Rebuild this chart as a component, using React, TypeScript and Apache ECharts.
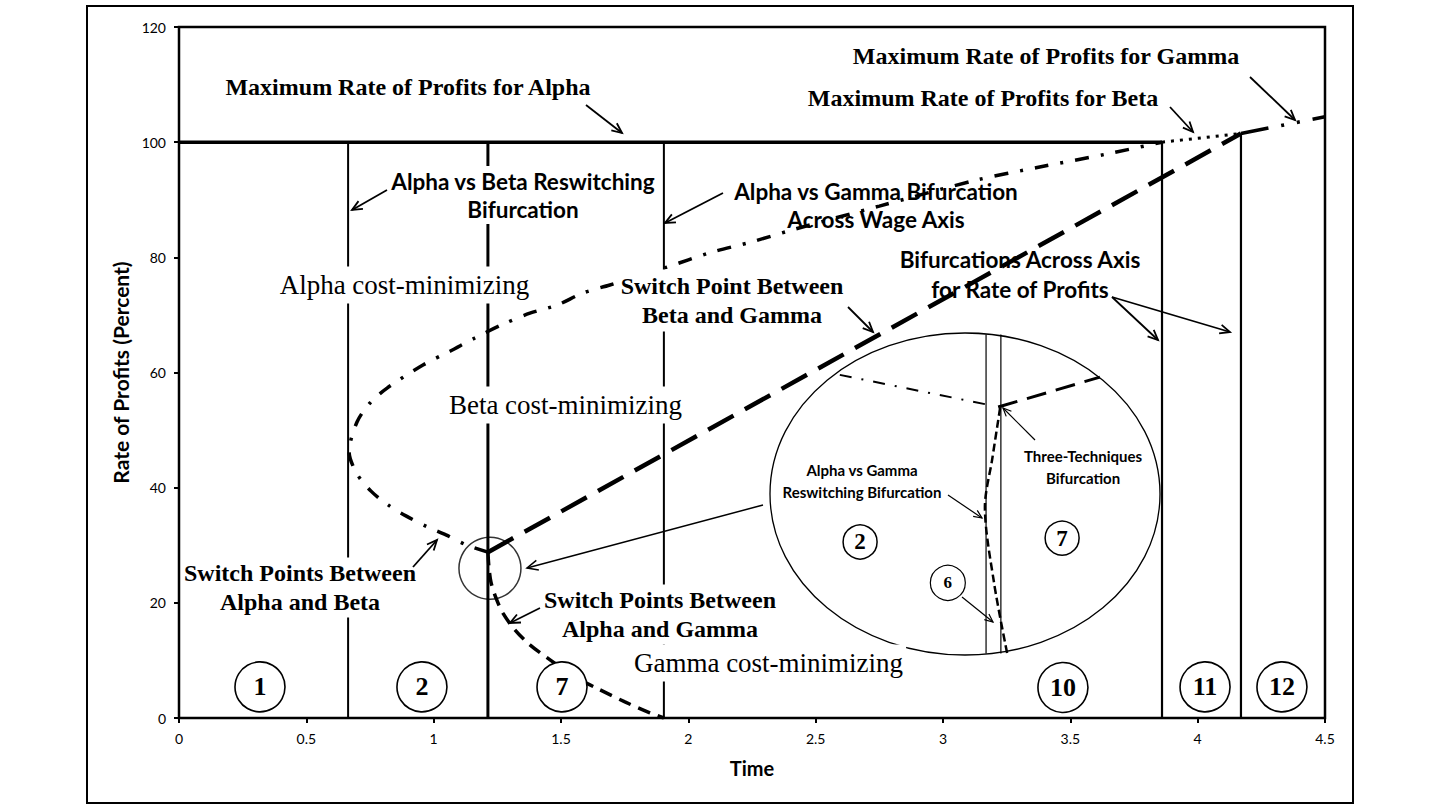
import React, { useEffect, useRef } from "react";
import * as echarts from "echarts";

// ---------- data (chart units) ----------
const xTickInterval = 0.5;
const yTickInterval = 20;
const xMax = 4.5;
const yMax = 120;

const maxAlpha = [[0, 100], [3.86, 100]];
const maxBeta = [[3.86, 100], [4.17, 101.5]];
const maxGamma = [[4.17, 101.5], [4.5, 104.4]];

const bifurcationTimes = [0.664, 1.213, 1.904, 3.86, 4.17];
const bifurcationTops = [100, 100, 100, 100, 101.5];
const bifurcationWidths = [2, 3, 2, 2.2, 2.2];

const alphaBetaSwitch = [
  [1.213, 28.8], [1.131, 30.0], [1.048, 31.8], [0.974, 33.2], [0.891, 35.1],
  [0.821, 37.0], [0.754, 39.4], [0.699, 42.4], [0.668, 46.2], [0.699, 51.4],
  [0.75, 54.7], [0.817, 57.3], [0.958, 61.3], [1.064, 63.7], [1.162, 66.0],
  [1.268, 68.3], [1.378, 70.3], [1.484, 71.7], [1.586, 73.8], [1.692, 75.2],
  [1.916, 78.3], [2.085, 80.8], [2.25, 82.7], [2.411, 84.8], [2.75, 88.9],
  [3.13, 93.4], [3.37, 95.6], [3.65, 98.0], [3.86, 100],
];
const betaGammaSwitch = [[1.213, 28.8], [4.17, 101.5]];
const alphaGammaSwitch = [
  [1.213, 28.8], [1.217, 26.2], [1.225, 23.6], [1.245, 20.8], [1.272, 18.2],
  [1.319, 15.3], [1.378, 12.7], [1.457, 10.1], [1.555, 7.1], [1.653, 4.9],
  [1.751, 2.8], [1.849, 0.9], [1.904, 0],
];

// region numbers [x, y, label]
const regions = [
  [0.318, 5.4, "1"], [0.954, 5.4, "2"], [1.504, 5.4, "7"],
  [3.471, 5.3, "10"], [4.029, 5.4, "11"], [4.331, 5.4, "12"],
];
const zoomSpot = [[1.221, 26.0]];

// inset (magnified view), in inset units 0..100
const insetVerticals = [55.4, 59.2];
const insetAlphaBeta = [[17.9, 87.0], [56.4, 77.6]];
const insetBetaGamma = [[58.5, 77.0], [84.6, 86.3]];
const insetAlphaGamma = [[59.0, 76.7], [57.0, 61.0], [55.1, 46.0], [57.5, 22.0], [60.8, 0.6]];
const insetRegions = [[23.1, 35.1, "2"], [74.9, 36.3, "7"]];
const insetRegionSix = [[45.6, 22.4, "6"]];

const yName = "Rate of Profits (Percent)";
const xName = "Time";

// ---------- styles ----------
const serif = '"Liberation Serif", "Times New Roman", serif';
const sans = 'Lato, "Open Sans", sans-serif';

function lineSeries(data, width, type, extra = {}) {
  return {
    type: "line",
    data,
    symbol: "none",
    silent: true,
    lineStyle: { color: "#000", width, type, cap: "butt" },
    ...extra,
  };
}

function text(x, y, t, opt) {
  return {
    type: "text",
    x,
    y,
    z: 20,
    silent: true,
    style: {
      text: t,
      fill: "#000",
      align: "center",
      verticalAlign: "middle",
      ...opt,
    },
  };
}

function arrow(x1, y1, x2, y2, lw = 1.6, head = 11) {
  const a = Math.atan2(y2 - y1, x2 - x1);
  const s = 0.42;
  const p1 = [x2 - head * Math.cos(a - s), y2 - head * Math.sin(a - s)];
  const p2 = [x2 - head * Math.cos(a + s), y2 - head * Math.sin(a + s)];
  return [
    { type: "line", z: 20, silent: true, shape: { x1, y1, x2, y2 }, style: { stroke: "#000", lineWidth: lw } },
    { type: "polyline", z: 20, silent: true, shape: { points: [p1, [x2, y2], p2] }, style: { stroke: "#000", lineWidth: lw, fill: null } },
  ];
}

const timesBold = { fontFamily: serif, fontWeight: "bold", fontSize: 24 };
const timesReg = { fontFamily: serif, fontWeight: "normal", fontSize: 27, backgroundColor: "#fff", padding: [5, 3] };
const sansBold = { fontFamily: sans, fontWeight: "bold", fontSize: 22.5 };
const sansSmall = { fontFamily: sans, fontWeight: "bold", fontSize: 15, lineHeight: 22 };

const circleLabel = (size) => ({
  show: true,
  position: "inside",
  formatter: (p) => p.value[2],
  fontFamily: serif,
  fontWeight: "bold",
  fontSize: size,
  color: "#000",
  opacity: 1,
  textBorderWidth: 0,
});

export default function App() {
  const ref = useRef(null);
  useEffect(() => {
    const chart = echarts.init(ref.current, null, { renderer: "svg" });

    const series = [
      lineSeries(maxAlpha, 3.5, "solid"),
      ...bifurcationTimes.map((t, i) =>
        lineSeries([[t, 0], [t, bifurcationTops[i]]], bifurcationWidths[i], "solid")
      ),
      lineSeries(maxBeta, 3, [3, 6]),
      lineSeries(maxGamma, 3.5, [28, 13, 3, 13, 3, 13]),
      lineSeries(alphaBetaSwitch, 3.5, [14, 12, 3, 12], { smooth: 0.3 }),
      lineSeries(betaGammaSwitch, 4.5, [29, 13]),
      lineSeries(alphaGammaSwitch, 3.5, [13, 8], { smooth: 0.3 }),
      {
        type: "scatter",
        data: regions,
        symbol: "circle",
        symbolSize: 50,
        silent: true,
        z: 5,
        itemStyle: { color: "#fff", borderColor: "#000", borderWidth: 1.6, opacity: 1 },
        label: circleLabel(26),
      },
      {
        type: "scatter",
        data: zoomSpot,
        symbol: "circle",
        symbolSize: 62,
        silent: true,
        z: 5,
        itemStyle: { color: "rgba(0,0,0,0)", borderColor: "#000", borderWidth: 1.5 },
      },
      // inset
      ...insetVerticals.map((u) =>
        lineSeries([[u, 0.5], [u, 99.5]], 1.2, "solid", { xAxisIndex: 1, yAxisIndex: 1 })
      ),
      lineSeries(insetAlphaBeta, 2, [12, 10, 2, 10], { xAxisIndex: 1, yAxisIndex: 1 }),
      lineSeries(insetBetaGamma, 3, [20, 10], { xAxisIndex: 1, yAxisIndex: 1 }),
      lineSeries(insetAlphaGamma, 2.5, [8, 4], { xAxisIndex: 1, yAxisIndex: 1, smooth: 0.3 }),
      {
        type: "scatter",
        xAxisIndex: 1,
        yAxisIndex: 1,
        data: insetRegions,
        symbol: "circle",
        symbolSize: 34,
        silent: true,
        z: 5,
        itemStyle: { color: "#fff", borderColor: "#000", borderWidth: 1.5, opacity: 1 },
        label: circleLabel(23),
      },
      {
        type: "scatter",
        xAxisIndex: 1,
        yAxisIndex: 1,
        data: insetRegionSix,
        symbol: "circle",
        symbolSize: 35,
        silent: true,
        z: 5,
        itemStyle: { color: "#fff", borderColor: "#000", borderWidth: 1.2, opacity: 1 },
        label: circleLabel(17),
      },
    ];

    const graphics = [
      { type: "rect", z: 1, silent: true, shape: { x: 87, y: 6, width: 1266, height: 797 }, style: { fill: null, stroke: "#000", lineWidth: 2 } },
      { type: "ellipse", z: 1, silent: true, shape: { cx: 965, cy: 494, rx: 195, ry: 161 }, style: { fill: null, stroke: "#000", lineWidth: 1.3 } },

      text(408, 87, "Maximum Rate of Profits for Alpha", timesBold),
      text(1046, 56, "Maximum Rate of Profits for Gamma", timesBold),
      text(983, 98, "Maximum Rate of Profits for Beta", timesBold),
      text(523, 195, "Alpha vs Beta Reswitching\nBifurcation", { ...sansBold, lineHeight: 28, backgroundColor: "#fff", padding: [1, 2] }),
      text(876, 205, "Alpha vs Gamma Bifurcation\nAcross Wage Axis", { ...sansBold, lineHeight: 28 }),
      text(404.5, 285, "Alpha cost-minimizing", timesReg),
      text(732, 300.5, "Switch Point Between\nBeta and Gamma", { ...timesBold, lineHeight: 29, backgroundColor: "#fff", padding: [2, 2] }),
      text(1020, 274, "Bifurcations Across Axis\nfor Rate of Profits", { ...sansBold, lineHeight: 30 }),
      text(565.5, 405, "Beta cost-minimizing", timesReg),
      text(300, 587.5, "Switch Points Between\nAlpha and Beta", { ...timesBold, lineHeight: 29, backgroundColor: "#fff", padding: [1, 2] }),
      text(660, 614.5, "Switch Points Between\nAlpha and Gamma", { ...timesBold, lineHeight: 29, backgroundColor: "#fff", padding: [1, 2] }),
      text(768.5, 663, "Gamma cost-minimizing", timesReg),

      text(862, 481, "Alpha vs Gamma\nReswitching Bifurcation", sansSmall),
      text(1083, 467, "Three-Techniques\nBifurcation", sansSmall),

      ...arrow(586, 105, 622, 133, 1.8),
      ...arrow(1250, 77, 1295, 120, 1.8),
      ...arrow(1170, 107, 1193, 132, 1.8),
      ...arrow(387, 190, 352, 210, 1.8),
      ...arrow(723, 193, 665, 223, 1.8),
      ...arrow(848, 307, 873, 332, 1.8),
      ...arrow(1112, 297, 1158, 340, 1.8),
      ...arrow(1112, 297, 1230, 332, 1.8),
      ...arrow(413, 567, 437, 540, 1.8),
      ...arrow(540, 608, 510, 623, 1.8),
      ...arrow(763, 505, 527, 568, 1.5, 12),
      ...arrow(948, 495, 982, 518, 1.2, 9),
      ...arrow(1035, 440, 1003, 408, 1.2, 9),
      ...arrow(962, 597, 993, 622, 1.2, 9),
    ];

    const option = {
      animation: false,
      backgroundColor: "#fff",
      textStyle: { fontFamily: sans },
      grid: [
        {
          left: 179, right: 115, top: 27, bottom: 92,
          show: true, borderColor: "#000", borderWidth: 2.5, backgroundColor: "transparent",
          containLabel: false,
        },
        { left: 770, top: 333, width: 390, height: 322, show: false },
      ],
      xAxis: [
        {
          type: "value", gridIndex: 0, min: 0, max: xMax, interval: xTickInterval,
          name: xName, nameLocation: "middle", nameGap: 40,
          nameTextStyle: { fontFamily: sans, fontWeight: "bold", fontSize: 20, color: "#000" },
          axisLine: { show: true, onZero: false, lineStyle: { color: "#000", width: 2 } },
          axisTick: { show: true, length: 5, lineStyle: { color: "#000", width: 2 } },
          axisLabel: { fontFamily: sans, fontSize: 14, color: "#000", margin: 13 },
          splitLine: { show: false },
        },
        { type: "value", gridIndex: 1, min: 0, max: 100, show: false },
      ],
      yAxis: [
        {
          type: "value", gridIndex: 0, min: 0, max: yMax, interval: yTickInterval,
          name: yName, nameLocation: "middle", nameGap: 43,
          nameTextStyle: { fontFamily: sans, fontWeight: "bold", fontSize: 21, color: "#000" },
          axisLine: { show: true, onZero: false, lineStyle: { color: "#000", width: 2 } },
          axisTick: { show: true, length: 5, lineStyle: { color: "#000", width: 2 } },
          axisLabel: { fontFamily: sans, fontSize: 14, color: "#000", margin: 13 },
          splitLine: { show: false },
        },
        { type: "value", gridIndex: 1, min: 0, max: 100, show: false },
      ],
      series,
      graphic: { elements: graphics },
    };

    chart.setOption(option);
    return () => chart.dispose();
  }, []);

  return (
    <div
      ref={ref}
      style={{ position: "absolute", left: 0, top: 0, width: 1440, height: 810, background: "#fff" }}
    />
  );
}
